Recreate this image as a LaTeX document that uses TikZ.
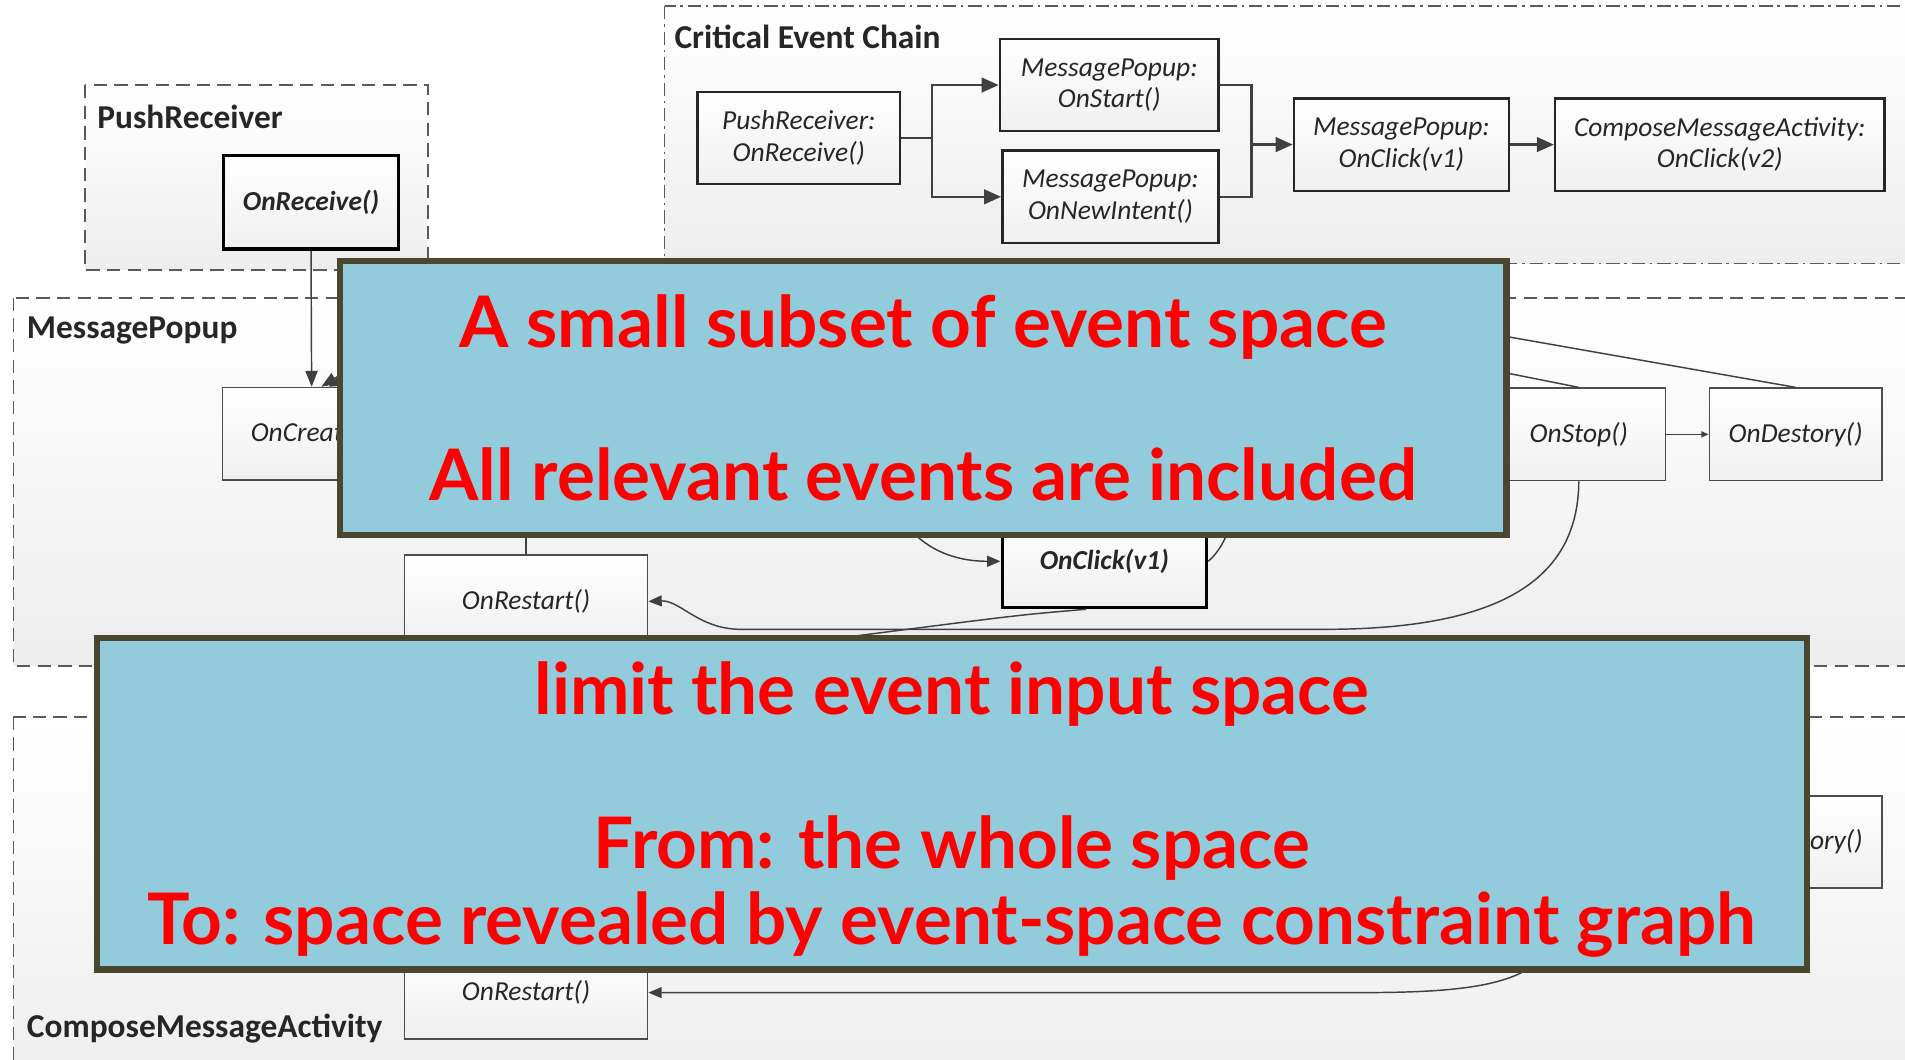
\documentclass[tikz,border=0pt]{standalone}
\usepackage{fontspec}
\setmainfont{Carlito}
\newfontfamily\calloutfont{Lato}
\usetikzlibrary{arrows.meta}

\definecolor{calloutfill}{HTML}{92CBDC}
\definecolor{calloutedge}{HTML}{4B4630}
\definecolor{calloutred}{HTML}{FF0000}
\definecolor{wire}{HTML}{404040}
\definecolor{frame}{HTML}{5A5A5A}
\definecolor{ink}{HTML}{262626}

\begin{document}
\begin{tikzpicture}[x=1pt,y=-1pt,
  group/.style={draw=frame, line width=1.4pt, dash pattern=on 11pt off 6pt,
    top color=white, bottom color=black!7},
  chaingroup/.style={group, dash pattern=on 11pt off 4pt on 2pt off 4pt},
  grouplabel/.style={anchor=west, inner sep=0pt, text=ink,
    font=\fontsize{27.5}{32}\selectfont\bfseries},
  evt/.style={draw=black!70, line width=1.3pt, top color=white, bottom color=black!6,
    minimum height=76pt, inner sep=0pt, text=ink,
    font=\fontsize{22.6}{26}\selectfont\itshape},
  keyevt/.style={evt, draw=black, line width=3pt,
    font=\fontsize{22.6}{26}\selectfont\bfseries\itshape},
  chainevt/.style={evt, draw=black!85, line width=2pt, align=center,
    font=\fontsize{22.6}{26}\selectfont\itshape},
  flow/.style={draw=wire, line width=1.2pt},
  arr/.style={flow, -{Triangle[length=11pt,width=9pt]}},
  bigarr/.style={flow, -{Triangle[length=13pt,width=10pt]}},
  thinarr/.style={flow, -{Triangle[length=6pt,width=5pt]}},
  chainflow/.style={draw=wire, line width=2pt},
  chainarr/.style={chainflow, -{Triangle[length=14pt,width=12pt]}},
  callout/.style={draw=calloutedge, line width=5pt, fill=calloutfill, inner sep=0pt},
  callouttext/.style={text=calloutred, align=center, inner sep=0pt,
    font=\calloutfont\bfseries\fontsize{58.5}{63}\selectfont}
]
\useasboundingbox (0,0) rectangle (1568,872);
\clip (0,0) rectangle (1568,872);
\fill[white] (0,0) rectangle (1568,872);

% component frames
\draw[chaingroup] (547,5) rectangle (1610,217);
\draw[group] (70,70) rectangle (352,222);
\draw[group] (11,245) rectangle (1610,548);
\draw[group] (11,590) rectangle (1610,900);

\node[grouplabel] (tchain) at (555,30) {Critical Event Chain};
\node[grouplabel] (tpush) at (80,96) {PushReceiver};
\node[grouplabel] (tpopup) at (22,272) {MessagePopup};
\node[grouplabel] (tcompose) at (22,847) {ComposeMessageActivity};

% critical event chain
\node[chainevt, minimum width=167pt] (pr) at (657.5,113.5) {PushReceiver:\\OnReceive()};
\node[chainevt, minimum width=180pt] (st) at (913,70) {MessagePopup:\\OnStart()};
\node[chainevt, minimum width=178pt] (ni) at (914,162) {MessagePopup:\\OnNewIntent()};
\node[chainevt, minimum width=177pt] (cv1) at (1153.5,119) {MessagePopup:\\OnClick(v1)};
\node[chainevt, minimum width=271pt] (cv2) at (1415.5,119) {ComposeMessageActivity:\\OnClick(v2)};

\coordinate (fork) at (767,113.5);
\coordinate (join) at (1030,119);
\draw[chainflow] (pr.east) -- (fork);
\draw[chainarr] (fork) |- (st.west);
\draw[chainarr] (fork) |- (ni.west);
\draw[chainflow] (st.east) -| (join);
\draw[chainflow] (ni.east) -| (join);
\draw[chainarr] (join) -- (cv1.west);
\draw[chainarr] (cv1) -- (cv2);

% PushReceiver
\node[keyevt, minimum width=144pt, minimum height=77pt] (recv) at (256,166.5) {OnReceive()};

% MessagePopup
\node[evt, minimum width=147pt] (create) at (256.5,357) {OnCreate()};
\node[evt, minimum width=143pt] (stop) at (1299.5,357.5) {OnStop()};
\node[evt, minimum width=142pt] (destroy) at (1478,357.5) {OnDestory()};
\node[evt, minimum width=200pt] (prestart) at (433,495) {OnRestart()};
\node[keyevt, minimum width=168pt] (pclick) at (909,462) {OnClick(v1)};

% ComposeMessageActivity
\node[evt, minimum width=200pt] (crestart) at (433,817) {OnRestart()};
\node[evt, minimum width=142pt] (cdestroy) at (1478,693) {OnDestory()};

% lifecycle transitions
\coordinate (hA) at (1240,277);
\coordinate (hB) at (1240,307);
\coordinate (hA2) at (300,296);
\coordinate (hB2) at (300,304);
\coordinate (hC) at (640,540);
\coordinate (hD) at (735,415);
\coordinate (hE) at (1016,420);
\coordinate (hF) at (433,430);
\coordinate (hG) at (1275,780);

\draw[bigarr] (recv.south) -- (create.north);
\draw[bigarr] (destroy.north) -- (hA) -- (hA2) -- ([xshift=8pt]create.north);
\draw[bigarr] (stop.north) -- (hB) -- (hB2) -- ([xshift=14pt]create.north);
\draw[thinarr] (stop.east) -- (destroy.west);
\draw[arr] (stop.south) .. controls (1299,480) and (1230,518) .. (1090,518)
  -- (610,518) .. controls (575,518) and (560,494) .. (prestart.east);
\draw[flow] ([xshift=-15pt]pclick.south) .. controls (840,506) .. (700,524) -- (hC);
\draw[arr] (hD) .. controls (755,455) and (790,462) .. (pclick.west);
\draw[flow] (pclick.east) .. controls (1003,455) and (1012,440) .. (hE);
\draw[flow] (prestart.north) -- (hF);
\draw[arr] (hG) .. controls (1258,812) and (1200,817) .. (1120,817) -- (crestart.east);

% callouts
\node[callout, minimum width=960pt, minimum height=225pt] (subset) at (760,327.5) {};
\node[callouttext] (subsettext) at (subset.center)
  {A small subset of event space\\[63pt]All relevant events are included};
\node[callout, minimum width=1407pt, minimum height=273pt] (limit) at (783.5,661.5) {};
\node[callouttext] (limittext) at ([yshift=-5pt]limit.center)
  {limit the event input space\\[63pt]From: the whole space\\To: space revealed by event-space constraint graph};
\end{tikzpicture}
\end{document}
